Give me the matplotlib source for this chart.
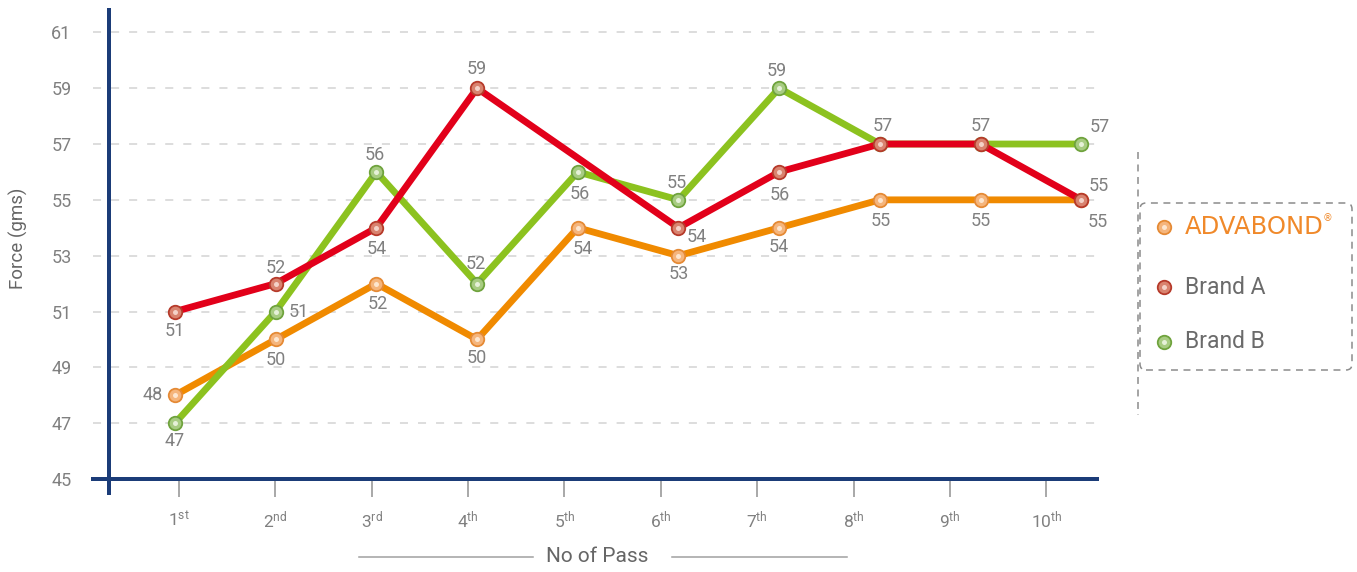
import matplotlib
matplotlib.use("Agg")
import matplotlib.pyplot as plt
import numpy as np
from matplotlib.lines import Line2D
from matplotlib.patches import FancyBboxPatch

plt.rcParams['font.family'] = ['Roboto', 'DejaVu Sans']
plt.rcParams['mathtext.fontset'] = 'custom'
plt.rcParams['mathtext.rm'] = 'Roboto'
plt.rcParams['mathtext.default'] = 'regular'
plt.rcParams['lines.scale_dashes'] = False

# data
passes = ['1$^{st}$', '2$^{nd}$', '3$^{rd}$', '4$^{th}$', '5$^{th}$',
          '6$^{th}$', '7$^{th}$', '8$^{th}$', '9$^{th}$', '10$^{th}$']
advabond = [48, 50, 52, 50, 54, 53, 54, 55, 55, 55]
brand_a = [51, 52, 54, 59, None, 54, 56, 57, 57, 55]
brand_b = [47, 51, 56, 52, 56, 55, 59, 57, 57, 57]
yticks = [45, 47, 49, 51, 53, 55, 57, 59, 61]

# label offsets in pixels (dx, dy up); None = no label
off_adv = [(-22, 0), (0, -21), (1, -20), (0, -19), (5, -21),
           (0, -18), (0, -19), (1, -21), (0, -21), (17, -22)]
off_a = [(0, -19), (0, 16), (0, -21), (0, 19), None,
         (18, -9), (1, -23), (3, 18), (0, 18), (18, 14)]
off_b = [(0, -18), (23, 0), (-2, 17), (-1, 20), (2, -22),
         (-2, 17), (-2, 17), None, None, (18, 17)]

PT = 0.72  # points per pixel at dpi 100
W, H = 1357, 572

series = [
    # name, values, offsets, line, edge, face, inner, zorder
    ('ADVABOND', advabond, off_adv, '#f08a00', '#e58a35', '#f5b57c', '#fde6cf', 3),
    ('Brand B', brand_b, off_b, '#8cc21f', '#6fa33d', '#a8cc82', '#e6f1d8', 4),
    ('Brand A', brand_a, off_a, '#e2001a', '#b63a2a', '#d9836f', '#f4d2c8', 5),
]

fig = plt.figure(figsize=(W / 100, H / 100), dpi=100)
ax = fig.add_axes([93 / W, 79 / H, 1004 / W, 483 / H])
ax.set_xlim(0.186, 10.156)
ax.set_ylim(44.5, 61.8)

x = np.arange(1, 11)
for name, vals, offs, lc, ec, fc, ic, z in series:
    xs = [xi for xi, v in zip(x, vals) if v is not None]
    ys = [v for v in vals if v is not None]
    ax.plot(xs, ys, color=lc, lw=6.8 * PT, solid_joinstyle='round',
            solid_capstyle='round', zorder=z)
    ax.plot(xs, ys, ls='none', marker='o', ms=13.5 * PT, mfc=fc, mec=ec,
            mew=1.3, zorder=z + 0.1)
    ax.plot(xs, ys, ls='none', marker='o', ms=5 * PT, mfc=ic, mec='none',
            zorder=z + 0.2)
    for xi, v, o in zip(x, vals, offs):
        if v is None or o is None:
            continue
        ax.annotate(str(v), (xi, v), xytext=(o[0] * PT, o[1] * PT),
                    textcoords='offset points', ha='center', va='center',
                    fontsize=13, color='#808080', zorder=10)

# axes styling
for s in ['top', 'right']:
    ax.spines[s].set_visible(False)
ax.spines['left'].set_position(('data', 0.345))
ax.spines['bottom'].set_position(('data', 45))
for s in ['left', 'bottom']:
    ax.spines[s].set_color('#1b3c78')
    ax.spines[s].set_linewidth(4 * PT)
    ax.spines[s].set_zorder(6)

ax.set_yticks(yticks)
ax.yaxis.grid(True, color='#d2d2d2', linestyle=(0, (5.8, 7.2)), linewidth=1.5 * PT)
ax.set_axisbelow(True)
ax.tick_params(axis='y', length=0, pad=27, labelsize=13, labelcolor='#808080')

ax.set_xticks(1.04 + np.arange(10) * 0.957)
ax.set_xticklabels(passes)
ax.tick_params(axis='x', length=13, width=1.2, color='#9a9a9a', pad=9,
               labelsize=12.5, labelcolor='#808080')

fig.text(18 / W, 1 - 238 / H, 'Force (gms)', rotation=90, ha='center',
         va='center', fontsize=13.5, color='#666666')

# x-axis title with rules on both sides
fig.text(597 / W, 1 - 557 / H, 'No of Pass', ha='center', va='center',
         fontsize=15, color='#666666')
for x0, x1 in [(359, 533), (672, 847)]:
    fig.add_artist(Line2D([x0 / W, x1 / W], [1 - 557 / H, 1 - 557 / H],
                          transform=fig.transFigure, color='#a0a0a0', lw=1.1))


def inch(px, py):
    return px / 100, (H - py) / 100


# legend
fig.add_artist(Line2D([11.38, 11.38], [(H - 152) / 100, (H - 415) / 100],
                      transform=fig.dpi_scale_trans, color='#8c8c8c', lw=1.1,
                      linestyle=(0, (5, 4))))
bx, by = inch(1140, 370)
fig.add_artist(FancyBboxPatch((bx, by), 2.12, 1.67,
                              boxstyle='round,pad=0,rounding_size=0.06',
                              transform=fig.dpi_scale_trans, fill=False,
                              edgecolor='#8c8c8c', lw=1.1, linestyle=(0, (5, 4))))

legend_rows = [(series[0], 227, 'ADVABOND'), (series[2], 287, 'Brand A'),
               (series[1], 342, 'Brand B')]
for (name, vals, offs, lc, ec, fc, ic, z), py, label in legend_rows:
    mx, my = inch(1164, py)
    fig.add_artist(Line2D([mx], [my], transform=fig.dpi_scale_trans, marker='o',
                          ms=13.5 * PT, mfc=fc, mec=ec, mew=1.3, ls='none'))
    fig.add_artist(Line2D([mx], [my], transform=fig.dpi_scale_trans, marker='o',
                          ms=5 * PT, mfc=ic, mec='none', ls='none'))
    tx, ty = inch(1185, py)
    if name == 'ADVABOND':
        fig.text(tx, ty, label, transform=fig.dpi_scale_trans, ha='left',
                 va='center', fontsize=17.5, color='#f0892a',
                 family=['DejaVu Sans'])
        rx, ry = inch(1328, py - 9)
        fig.text(rx, ry, '®', transform=fig.dpi_scale_trans, ha='center',
                 va='center', fontsize=7, color='#f0892a',
                 family=['DejaVu Sans'])
    else:
        fig.text(tx, ty, label, transform=fig.dpi_scale_trans, ha='left',
                 va='center', fontsize=16.5, color='#6b6b6b')

fig.savefig('out.png', dpi=100)
